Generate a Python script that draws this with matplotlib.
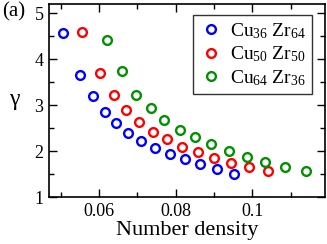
import numpy as np
import matplotlib
matplotlib.use('Agg')
import matplotlib.pyplot as plt
from matplotlib.ticker import MultipleLocator

plt.rcParams['font.family'] = 'Liberation Serif'
plt.rcParams['mathtext.fontset'] = 'custom'
plt.rcParams['mathtext.rm'] = 'Liberation Serif'
plt.rcParams['mathtext.it'] = 'Liberation Serif:italic'

# Cu36Zr64
d36 = [0.0507, 0.0550, 0.0586, 0.0615, 0.0644, 0.0677, 0.0711, 0.0746,
       0.0785, 0.0824, 0.0864, 0.0908, 0.0953]
g36 = [4.57, 3.66, 3.19, 2.85, 2.60, 2.39, 2.22, 2.06, 1.93, 1.82, 1.71,
       1.60, 1.51]
# Cu50Zr50
d50 = [0.0555, 0.0602, 0.0640, 0.0670, 0.0706, 0.0740, 0.0777, 0.0817,
       0.0858, 0.0901, 0.0945, 0.0992, 0.1042]
g50 = [4.59, 3.70, 3.21, 2.90, 2.63, 2.42, 2.26, 2.09, 1.97, 1.85, 1.75,
       1.65, 1.56]
# Cu64Zr36
d64 = [0.0620, 0.0660, 0.0698, 0.0737, 0.0771, 0.0811, 0.0851, 0.0892,
       0.0939, 0.0986, 0.1034, 0.1086, 0.1140]
g64 = [4.41, 3.74, 3.23, 2.94, 2.67, 2.46, 2.31, 2.15, 2.00, 1.88, 1.77,
       1.66, 1.57]

labels = [r'Cu$_{\mathrm{36}}$ Zr$_{\mathrm{64}}$',
          r'Cu$_{\mathrm{50}}$ Zr$_{\mathrm{50}}$',
          r'Cu$_{\mathrm{64}}$ Zr$_{\mathrm{36}}$']
colors = ['#0000ff', '#ff0000', '#009000']

fig = plt.figure(figsize=(3.27, 2.44), dpi=100)
ax = fig.add_axes([49/327, 1 - 197/244, (325-49)/327, (197-4)/244])

for d, g, lab, c in zip([d36, d50, d64], [g36, g50, g64], labels, colors):
    ax.plot(d, g, 'o', mfc='none', mec=c, ms=6.3, mew=1.7, label=lab)

ax.set_xlim(0.047, 0.119)
ax.set_ylim(1, 5.2)
ax.xaxis.set_major_locator(MultipleLocator(0.02))
ax.xaxis.set_minor_locator(MultipleLocator(0.01))
ax.yaxis.set_major_locator(MultipleLocator(1))
ax.yaxis.set_minor_locator(MultipleLocator(0.5))
ax.set_xticks([0.06, 0.08, 0.1])
ax.set_xticklabels(['0.06', '0.08', '0.1'])
ax.tick_params(which='both', direction='in', top=True, right=True,
               labelsize=13, width=1)
ax.tick_params(which='major', length=6, pad=4)
ax.tick_params(which='minor', length=3.5)
for s in ax.spines.values():
    s.set_linewidth(1.2)

ax.set_xlabel('Number density', fontsize=16, labelpad=1)
fig.text(14/327, 1 - 100/244, 'γ', fontsize=17, ha='center', va='center')
fig.text(2/327, 1 - 12/244, '(a)', fontsize=15, ha='left', va='center')

leg = ax.legend(loc='upper right', bbox_to_anchor=(312/327, 1 - 15/244),
                bbox_transform=fig.transFigure, fontsize=14, frameon=True,
                fancybox=False, edgecolor='black', borderpad=0.3,
                labelspacing=0.2, handletextpad=0.4, handlelength=1.2,
                borderaxespad=0)
leg.get_frame().set_linewidth(1)

fig.savefig('out.png', dpi=100)
